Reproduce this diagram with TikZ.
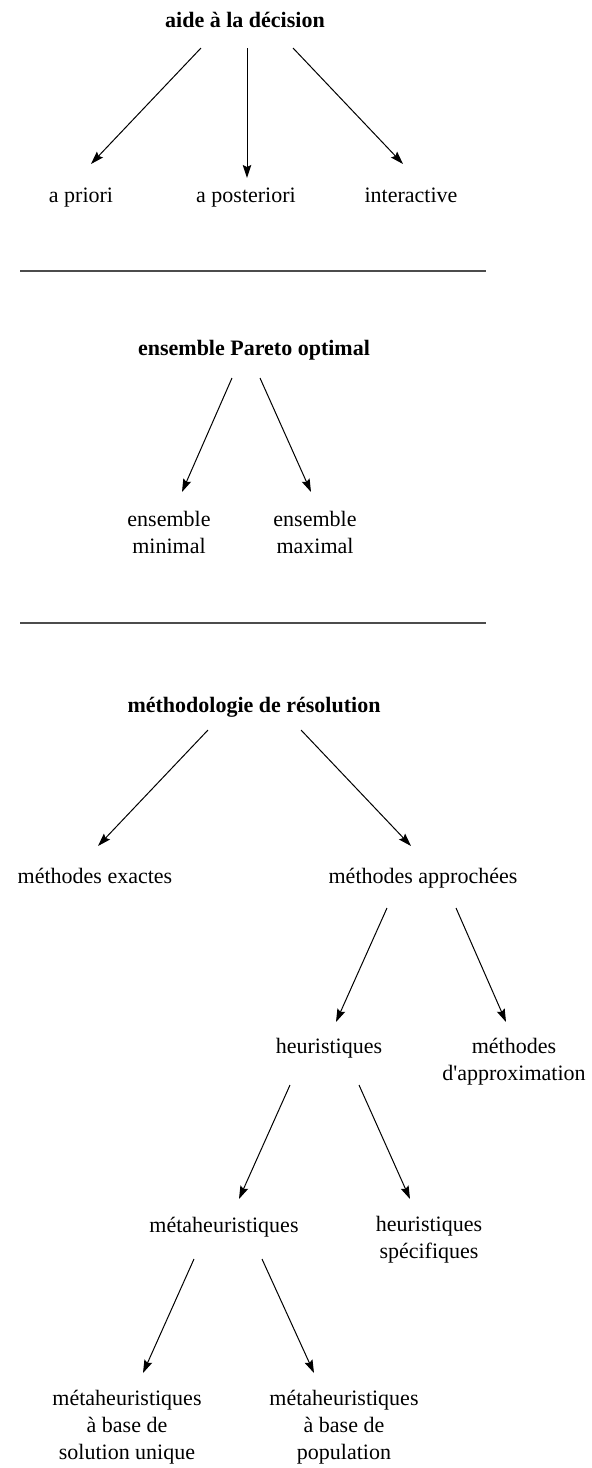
\documentclass[tikz,border=0pt]{standalone}
\usepackage{fontspec}
\setmainfont{Liberation Serif}
\usetikzlibrary{arrows.meta,calc}

\begin{document}
\begin{tikzpicture}[x=0.5pt,y=-0.5pt,font=\fontsize{11}{13.5}\selectfont]
    \tikzstyle{every node}+=[inner sep=0pt, anchor=base, align=center]
    \tikzstyle{titre}=[font=\fontsize{11}{13.5}\selectfont\bfseries]
    \tikzstyle{fleche}=[black, line width=0.5pt, -{Stealth[length=6.5pt,width=4.2pt,inset=1pt]}]
    \tikzstyle{trait}=[black!70, line width=0.8pt]
    \useasboundingbox (0,0) rectangle (592,1468);
    \node [titre] (aide) at (245,27) {aide à la décision};
    \node (apriori) at (81,202) {a priori};
    \node (aposteriori) at (246,202) {a posteriori};
    \node (interactive) at (411,202) {interactive};
    \draw [fleche] ($(aide.base)+(-44,21)$) -- ($(apriori.base)+(10,-38)$);
    \draw [fleche] ($(aide.base)+(2,21)$) -- ($(aposteriori.base)+(1,-24)$);
    \draw [fleche] ($(aide.base)+(48,21)$) -- ($(interactive.base)+(-8,-38)$);
    \draw [trait] (20,271) -- (486,271);
    \node [titre] (pareto) at (254,355) {ensemble Pareto optimal};
    \node (minimal) at (169,553) {ensemble\\minimal};
    \node (maximal) at (315,553) {ensemble\\maximal};
    \draw [fleche] ($(pareto.base)+(-22,23)$) -- ($(minimal.base)+(13,-61)$);
    \draw [fleche] ($(pareto.base)+(6,23)$) -- ($(maximal.base)+(-4,-61)$);
    \draw [trait] (20,623) -- (486,623);
    \node [titre] (methodo) at (254,712) {méthodologie de résolution};
    \node (exactes) at (95,883) {méthodes exactes};
    \node (approchees) at (423,883) {méthodes approchées};
    \node (heuristiques) at (329,1053) {heuristiques};
    \node (approx) at (514,1080) {méthodes\\d\textquotesingle approximation};
    \node (meta) at (224,1232) {métaheuristiques};
    \node (specifiques) at (429,1258) {heuristiques\\spécifiques};
    \node (unique) at (127,1459) {métaheuristiques\\à base de\\solution unique};
    \node (population) at (344,1459) {métaheuristiques\\à base de\\population};
    \draw [fleche] ($(methodo.base)+(-46,18)$) -- ($(exactes.base)+(3,-37)$);
    \draw [fleche] ($(methodo.base)+(47,18)$) -- ($(approchees.base)+(-12,-37)$);
    \draw [fleche] ($(approchees.base)+(-36,25)$) -- ($(heuristiques.base)+(7,-31)$);
    \draw [fleche] ($(approchees.base)+(33,25)$) -- ($(approx.base)+(-8,-58)$);
    \draw [fleche] ($(heuristiques.base)+(-39,32)$) -- ($(meta.base)+(15,-33)$);
    \draw [fleche] ($(heuristiques.base)+(30,32)$) -- ($(specifiques.base)+(-19,-59)$);
    \draw [fleche] ($(meta.base)+(-30,27)$) -- ($(unique.base)+(16,-86)$);
    \draw [fleche] ($(meta.base)+(38,27)$) -- ($(population.base)+(-30,-86)$);
\end{tikzpicture}
\end{document}
